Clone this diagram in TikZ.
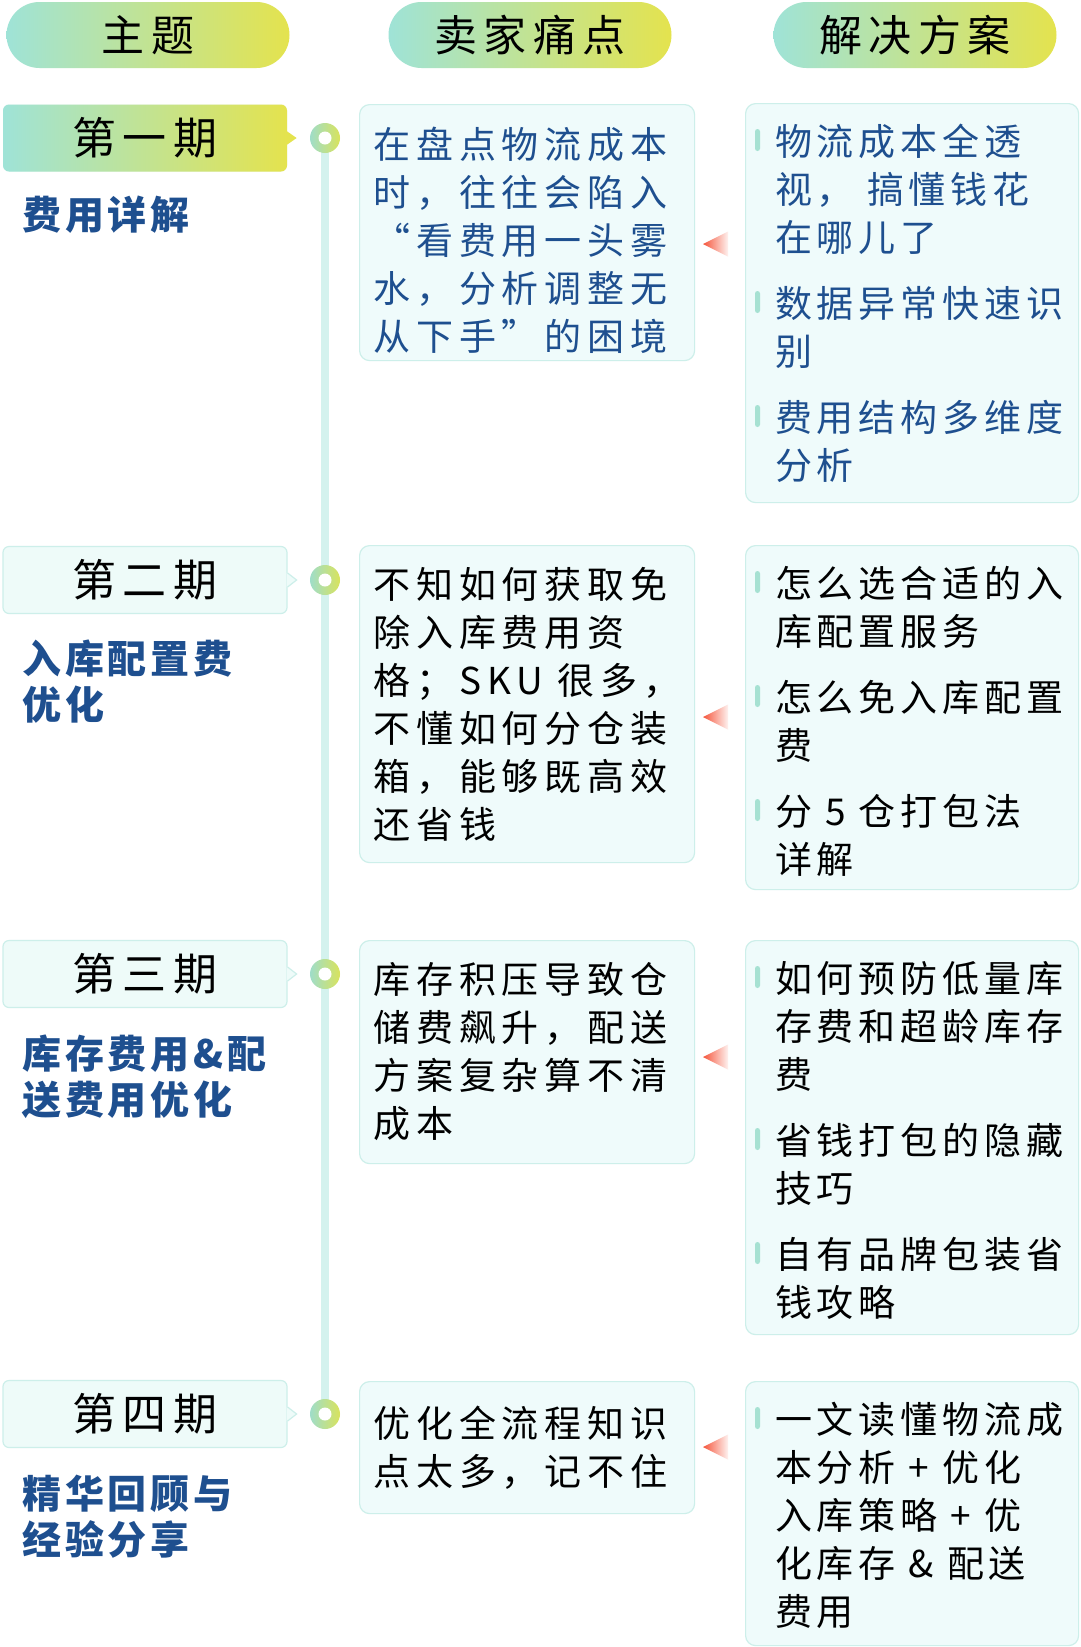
\documentclass[tikz,border=0pt]{standalone}
\usepackage{fontspec}
\setmainfont{Noto Sans CJK SC}
\newfontfamily\headfont{Noto Sans CJK SC}[LetterSpace=15]
\newfontfamily\bodyfont{Noto Sans CJK SC}[LetterSpace=16]
\newfontfamily\solfont{Noto Sans CJK SC}[LetterSpace=13]
\newfontfamily\topicfont{Noto Sans CJK SC}[LetterSpace=10]
\usepackage{xcolor}
\definecolor{tealL}{RGB}{159,227,215}
\definecolor{yelR}{RGB}{228,227,78}
\definecolor{periodfill}{RGB}{238,251,249}
\definecolor{cardfill}{RGB}{239,251,251}
\definecolor{cardline}{RGB}{205,239,234}
\definecolor{bluetext}{RGB}{30,79,143}
\definecolor{barcol}{RGB}{166,225,210}
\definecolor{linecol}{RGB}{212,242,238}
\definecolor{dotL}{RGB}{159,221,201}
\definecolor{dotR}{RGB}{217,227,92}
\definecolor{tri}{RGB}{245,85,59}
\tikzset{
  headpill/.style={rounded corners=33pt, left color=tealL, right color=yelR,
    minimum width=283pt, minimum height=66pt, inner sep=0pt,
    font=\headfont\fontsize{43}{50}\selectfont},
  periodbox/.style={rounded corners=6pt, fill=periodfill, draw=cardline, line width=1.2pt,
    minimum width=284pt, minimum height=67pt, inner sep=0pt,
    font=\headfont\fontsize{44}{50}\selectfont},
  activebox/.style={periodbox, draw=none, left color=tealL, right color=yelR},
  card/.style={rounded corners=10pt, fill=cardfill, draw=cardline, line width=1.2pt,
    anchor=north west, inner sep=0pt},
  cardtext/.style={anchor=north west, inner sep=0pt, align=left,
    font=\bodyfont\fontsize{37}{48}\selectfont},
  soltext/.style={cardtext, font=\solfont\fontsize{37}{48}\selectfont},
  topictext/.style={anchor=north west, inner sep=0pt, align=left, text=bluetext,
    font=\topicfont\bfseries\fontsize{39}{46}\selectfont},
  tickbar/.style={fill=barcol, rounded corners=2.5pt, minimum width=5pt,
    minimum height=22pt, inner sep=0pt},
  ringdot/.style={circle, minimum size=30pt, inner sep=0pt, left color=dotL, right color=dotR},
  ringhole/.style={circle, fill=white, minimum size=13pt, inner sep=0pt},
  pointer/.style={left color=tri, right color=tri!8},
}

\begin{document}
\begin{tikzpicture}[x=1pt,y=-1pt]
  \fill[white] (0,0) rectangle (1080,1647);

  \node[headpill] (headtopic) at (148,35) {主题};
  \node[headpill] (headpain) at (530,35) {卖家痛点};
  \node[headpill] (headsol) at (915,35) {解决方案};

  \coordinate (stop1) at (325,138);
  \coordinate (stop2) at (325,580);
  \coordinate (stop3) at (325,974);
  \coordinate (stop4) at (325,1414);
  \draw[linecol, line width=8pt] (stop1) -- (stop4);
  \foreach \i in {1,...,4} {
    \node[ringdot] (dot\i) at (stop\i) {};
    \node[ringhole] (hole\i) at (dot\i) {};
  }

  \node[activebox] (period1) at (145,138) {第一期};
  \fill[yelR] ([xshift=-1pt,yshift=7pt]period1.east) -- ([xshift=9pt]period1.east)
    -- ([xshift=-1pt,yshift=-7pt]period1.east) -- cycle;
  \node[periodbox] (period2) at (145,580) {第二期};
  \node[periodbox] (period3) at (145,974) {第三期};
  \node[periodbox] (period4) at (145,1414) {第四期};
  \foreach \i in {2,3,4} {
    \fill[periodfill] ([xshift=-1pt,yshift=7pt]period\i.east) -- ([xshift=9pt]period\i.east)
      -- ([xshift=-1pt,yshift=-7pt]period\i.east) -- cycle;
    \draw[cardline, line width=1.2pt] ([yshift=7pt]period\i.east) -- ([xshift=9pt]period\i.east)
      -- ([yshift=-7pt]period\i.east);
  }

  \node[topictext] (topic1) at (22,196) {费用详解};
  \node[topictext] (topic2) at (22,640) {入库配置费\\优化};
  \node[topictext] (topic3) at (22,1035) {库存费用\&配\\送费用优化};
  \node[topictext] (topic4) at (22,1475) {精华回顾与\\经验分享};

  \node[card, minimum width=335pt, minimum height=256pt] (pain1) at (359,104) {};
  \node[card, minimum width=335pt, minimum height=317pt] (pain2) at (359,545) {};
  \node[card, minimum width=335pt, minimum height=223pt] (pain3) at (359,940) {};
  \node[card, minimum width=335pt, minimum height=132pt] (pain4) at (359,1381) {};

  \node[cardtext, text=bluetext] (paintext1) at ([xshift=14pt,yshift=-23pt]pain1.north west)
    {在盘点物流成本\\时，往往会陷入\\“看费用一头雾\\水，分析调整无\\从下手”的困境};
  \node[cardtext] (paintext2) at ([xshift=14pt,yshift=-22pt]pain2.north west)
    {不知如何获取免\\除入库费用资\\格；SKU 很多，\\不懂如何分仓装\\箱，能够既高效\\还省钱};
  \node[cardtext] (paintext3) at ([xshift=14pt,yshift=-22pt]pain3.north west)
    {库存积压导致仓\\储费飙升，配送\\方案复杂算不清\\成本};
  \node[cardtext] (paintext4) at ([xshift=14pt,yshift=-25pt]pain4.north west)
    {优化全流程知识\\点太多，记不住};

  \node[card, minimum width=333pt, minimum height=399pt] (sol1) at (745,103) {};
  \node[card, minimum width=333pt, minimum height=344pt] (sol2) at (745,545) {};
  \node[card, minimum width=333pt, minimum height=394pt] (sol3) at (745,940) {};
  \node[card, minimum width=333pt, minimum height=264pt] (sol4) at (745,1381) {};

  \node[soltext, text=bluetext] (soltext1) at ([xshift=30pt,yshift=-21pt]sol1.north west)
    {物流成本全透\\视， 搞懂钱花\\在哪儿了\\[18pt]数据异常快速识\\别\\[18pt]费用结构多维度\\分析};
  \node[soltext] (soltext2) at ([xshift=30pt,yshift=-21pt]sol2.north west)
    {怎么选合适的入\\库配置服务\\[18pt]怎么免入库配置\\费\\[18pt]分 5 仓打包法\\详解};
  \node[soltext] (soltext3) at ([xshift=30pt,yshift=-21pt]sol3.north west)
    {如何预防低量库\\存费和超龄库存\\费\\[18pt]省钱打包的隐藏\\技巧\\[18pt]自有品牌包装省\\钱攻略};
  \node[soltext] (soltext4) at ([xshift=30pt,yshift=-21pt]sol4.north west)
    {一文读懂物流成\\本分析 + 优化\\入库策略 + 优\\化库存 \& 配送\\费用};

  \foreach \y in {140,302,416,582,696,810,977,1139,1253,1418}
    \node[tickbar] (tick\y) at (757.5,\y) {};

  \foreach \y [count=\i] in {244,717,1057,1447} {
    \coordinate (mark\i) at (703,\y);
    \shade[pointer] (mark\i) -- ++(25,-12.5) -- ++(0,25) -- cycle;
  }
\end{tikzpicture}
\end{document}
